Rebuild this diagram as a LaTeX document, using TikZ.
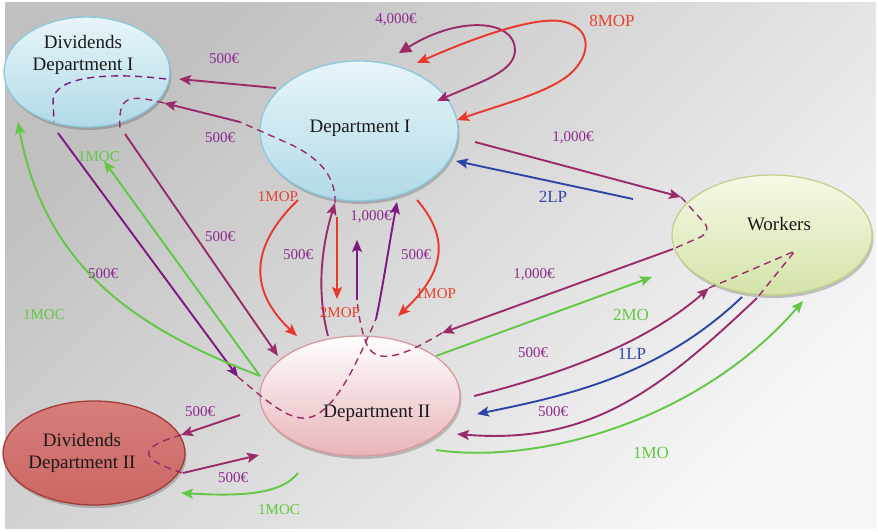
\documentclass[tikz,border=0pt]{standalone}
\usepackage{fontspec}
\setmainfont{Liberation Serif}
\usetikzlibrary{arrows.meta,shapes.geometric,shadows}
\definecolor{cPlum}{HTML}{9A2B68}
\definecolor{cViolet}{HTML}{7E1683}
\definecolor{cRed}{HTML}{E8372B}
\definecolor{cGreen}{HTML}{62C843}
\definecolor{cBlue}{HTML}{2F45A6}
\definecolor{cLab}{HTML}{8D2B8F}
\definecolor{cLabRed}{HTML}{E8402F}
\definecolor{cLabBlue}{HTML}{3447A8}
\definecolor{cBgA}{HTML}{C0C0C0}
\definecolor{cBgB}{HTML}{F6F6F6}
\definecolor{cBlueTop}{HTML}{E8F5F9}
\definecolor{cBlueBot}{HTML}{B0DAE7}
\definecolor{cBlueDraw}{HTML}{8CC8DA}
\definecolor{cGrTop}{HTML}{F6F9E6}
\definecolor{cGrBot}{HTML}{D3E3A8}
\definecolor{cGrDraw}{HTML}{BDD28C}
\definecolor{cPkBot}{HTML}{E8B3B8}
\definecolor{cPkDraw}{HTML}{D89A9F}
\definecolor{cRdTop}{HTML}{D67E7B}
\definecolor{cRdMid}{HTML}{C04C49}
\definecolor{cRdBot}{HTML}{CC6764}
\definecolor{cRdDraw}{HTML}{A33A37}
\begin{document}
\begin{tikzpicture}[x=1pt,y=-1pt,
  ell/.style={ellipse, inner sep=0pt, line width=1.3pt,
    drop shadow={shadow xshift=1.5pt, shadow yshift=-3pt, opacity=0.3, fill=black!70}},
  ntext/.style={font=\fontsize{19}{22}\selectfont, align=center, text=black!90, inner sep=0pt},
  lab/.style={font=\fontsize{15}{18}\selectfont, inner sep=0pt},
  labL/.style={font=\fontsize{17}{20}\selectfont, inner sep=0pt},
  ln/.style={line width=1.9pt},
  arr/.style={ln, -{Stealth[length=12pt,width=10pt,inset=2.5pt]}},
  dsh/.style={line width=1.4pt, dash pattern=on 7pt off 5pt},
]
\useasboundingbox (0,0) rectangle (878,532);
\fill[white] (0,0) rectangle (878,532);
\shade[top color=cBgA, bottom color=cBgB, shading angle=45] (5,3) rectangle (876,528);

% ellipses
\node[ell, minimum width=166pt, minimum height=110pt, top color=cBlueTop, bottom color=cBlueBot, draw=cBlueDraw] (dd1) at (87,72) {};
\node[ntext] (dd1t) at (83,55) {Dividends\\Department I};
\node[ell, minimum width=198pt, minimum height=140pt, top color=cBlueTop, bottom color=cBlueBot, draw=cBlueDraw] (d1) at (359,131) {};
\node[ntext] (d1t) at (360,128) {Department I};
\node[ell, minimum width=200pt, minimum height=120pt, top color=cGrTop, bottom color=cGrBot, draw=cGrDraw] (w) at (772,235) {};
\node[ntext] (wt) at (779,224) {Workers};
\node[ell, minimum width=200pt, minimum height=120pt, top color=white, bottom color=cPkBot, draw=cPkDraw] (d2) at (360,396) {};
\node[ntext] (d2t) at (377,413) {Department II};
\node[ell, minimum width=182pt, minimum height=104pt, top color=cRdTop, middle color=cRdMid, bottom color=cRdBot, draw=cRdDraw] (dd2) at (94,453) {};
\node[ntext] (dd2t) at (82,453) {Dividends\\Department II};

% coordinates
\coordinate (p1) at (276,88);   \coordinate (p2) at (179,79);
\coordinate (p3) at (166,79);   \coordinate (p4) at (54,122);
\coordinate (p5) at (58,133);   \coordinate (p6) at (238,377);
\coordinate (p7) at (376,319);  \coordinate (p8) at (397,202);
\coordinate (p9) at (357,300);  \coordinate (p10) at (357,240);
\coordinate (p11) at (337,217); \coordinate (p12) at (337,299);
\coordinate (p13) at (328,336); \coordinate (p14) at (335,203);
\coordinate (p15) at (240,122); \coordinate (p16) at (164,103);
\coordinate (p17) at (120,128); \coordinate (p18) at (125,134);
\coordinate (p19) at (278,356); \coordinate (p20) at (298,200);
\coordinate (p21) at (297,336); \coordinate (p22) at (417,200);
\coordinate (p23) at (398,316); \coordinate (p24) at (399,53);
\coordinate (p25) at (437,101); \coordinate (p26) at (417,63);
\coordinate (p27) at (457,120); \coordinate (p28) at (475,142);
\coordinate (p29) at (681,197); \coordinate (p30) at (673,249);
\coordinate (p31) at (442,333); \coordinate (p32) at (633,199);
\coordinate (p33) at (456,161); \coordinate (p34) at (436,356);
\coordinate (p35) at (652,277); \coordinate (p36) at (474,396);
\coordinate (p37) at (709,288); \coordinate (p38) at (757,298);
\coordinate (p39) at (457,434); \coordinate (p40) at (742,297);
\coordinate (p41) at (477,414); \coordinate (p42) at (436,450);
\coordinate (p43) at (803,301); \coordinate (p44) at (240,415);
\coordinate (p45) at (181,435); \coordinate (p46) at (183,473);
\coordinate (p47) at (259,455); \coordinate (p48) at (298,473);
\coordinate (p49) at (181,493); \coordinate (p50) at (260,376);
\coordinate (p51) at (104,161); \coordinate (p52) at (18,122);

% Dept I -> Div Dept I
\draw[arr, cPlum] (p1) -- (p2);
\draw[dsh, cViolet] (p3) .. controls (110,72) and (55,76) .. (53,100) -- (p4);
\draw[arr, cViolet] (p5) -- (p6);
\draw[dsh, cPlum] (p6) .. controls (268,402) and (288,420) .. (307,418) .. controls (335,414) and (358,360) .. (p7);
\draw[arr, cViolet] (p7) .. controls (382,292) and (389,245) .. (p8);
\draw[arr, cViolet] (p9) -- (p10);
\draw[arr, cRed] (p11) -- (p12);
\draw[arr, cPlum] (p13) .. controls (316,290) and (322,245) .. (p14);
\draw[dsh, cPlum] (p14) .. controls (336,175) and (318,158) .. (292,145) -- (p15);
\draw[arr, cPlum] (p15) -- (p16);
\draw[dsh, cPlum] (p16) .. controls (128,94) and (118,96) .. (p17);
\draw[arr, cPlum] (p18) -- (p19);
\draw[arr, cRed] (p20) .. controls (248,248) and (250,292) .. (p21);
\draw[arr, cRed] (p22) .. controls (450,238) and (445,272) .. (p23);
% loops
\draw[ln, cPlum, {Triangle[length=12pt,width=12pt]}-{Stealth[length=12pt,width=10pt,inset=2.5pt]}]
  (p24) .. controls (460,15) and (515,20) .. (515,50) .. controls (515,72) and (480,82) .. (p25);
\draw[ln, cRed, {Stealth[length=12pt,width=10pt,inset=2.5pt]}-{Stealth[length=12pt,width=10pt,inset=2.5pt]}]
  (p26) .. controls (480,35) and (540,15) .. (565,22) .. controls (595,30) and (590,60) .. (565,78) .. controls (540,95) and (500,105) .. (p27);
% Dept I <-> Workers
\draw[arr, cPlum] (p28) -- (p29);
\draw[dsh, cPlum, rounded corners=4pt] (p29) -- (708,227) -- (705,235) -- (p30);
\draw[arr, cPlum] (p30) -- (p31);
\draw[dsh, cPlum] (p31) .. controls (410,352) and (378,368) .. (367,345) .. controls (362,333) and (359,318) .. (p9);
\draw[arr, cBlue] (p32) -- (p33);
% Dept II <-> Workers
\draw[arr, cGreen] (p34) -- (p35);
\draw[arr, cPlum] (p36) .. controls (570,372) and (650,340) .. (p37);
\draw[dsh, cPlum] (p37) -- (795,251) -- (p38);
\draw[arr, cPlum] (p38) .. controls (660,390) and (590,445) .. (p39);
\draw[arr, cBlue] (p40) .. controls (660,375) and (570,395) .. (p41);
\draw[arr, cGreen] (p42) .. controls (540,465) and (700,420) .. (p43);
% Dept II <-> Div Dept II
\draw[arr, cPlum] (p44) -- (p45);
\draw[dsh, cPlum] (p45) .. controls (140,447) and (135,458) .. (p46);
\draw[arr, cPlum] (p46) -- (p47);
\draw[arr, cGreen] (p48) .. controls (280,496) and (235,496) .. (p49);
% Dept II -> Div Dept I
\draw[arr, cGreen] (p50) -- (p51);
\draw[arr, cGreen] (p50) .. controls (140,330) and (45,270) .. (p52);

% labels
\node[lab, text=cLab] (l1) at (224,59) {500€};
\node[lab, text=cLab] (l2) at (220,138) {500€};
\node[lab, text=cLab] (l3) at (220,237) {500€};
\node[lab, text=cLab] (l4) at (103,274) {500€};
\node[lab, text=cGreen] (l5) at (99,157) {1MOC};
\node[lab, text=cGreen] (l6) at (44,315) {1MOC};
\node[lab, text=cLabRed] (l7) at (278,197) {1MOP};
\node[lab, text=cLab] (l8) at (298,255) {500€};
\node[lab, text=cLab] (l9) at (371,217) {1,000€};
\node[lab, text=cLab] (l10) at (416,255) {500€};
\node[lab, text=cLabRed] (l11) at (436,294) {1MOP};
\node[lab, text=cLabRed] (l12) at (340,313) {2MOP};
\node[lab, text=cLab] (l13) at (396,20) {4,000€};
\node[labL, text=cLabRed] (l14) at (612,21) {8MOP};
\node[lab, text=cLab] (l15) at (573,138) {1,000€};
\node[labL, text=cLabBlue] (l16) at (553,197) {2LP};
\node[lab, text=cLab] (l17) at (534,275) {1,000€};
\node[labL, text=cGreen] (l18) at (631,315) {2MO};
\node[lab, text=cLab] (l19) at (533,353) {500€};
\node[labL, text=cLabBlue] (l20) at (632,354) {1LP};
\node[lab, text=cLab] (l21) at (553,412) {500€};
\node[labL, text=cGreen] (l22) at (651,453) {1MO};
\node[lab, text=cLab] (l23) at (200,412) {500€};
\node[lab, text=cLab] (l24) at (233,478) {500€};
\node[lab, text=cGreen] (l25) at (279,510) {1MOC};
\end{tikzpicture}
\end{document}
